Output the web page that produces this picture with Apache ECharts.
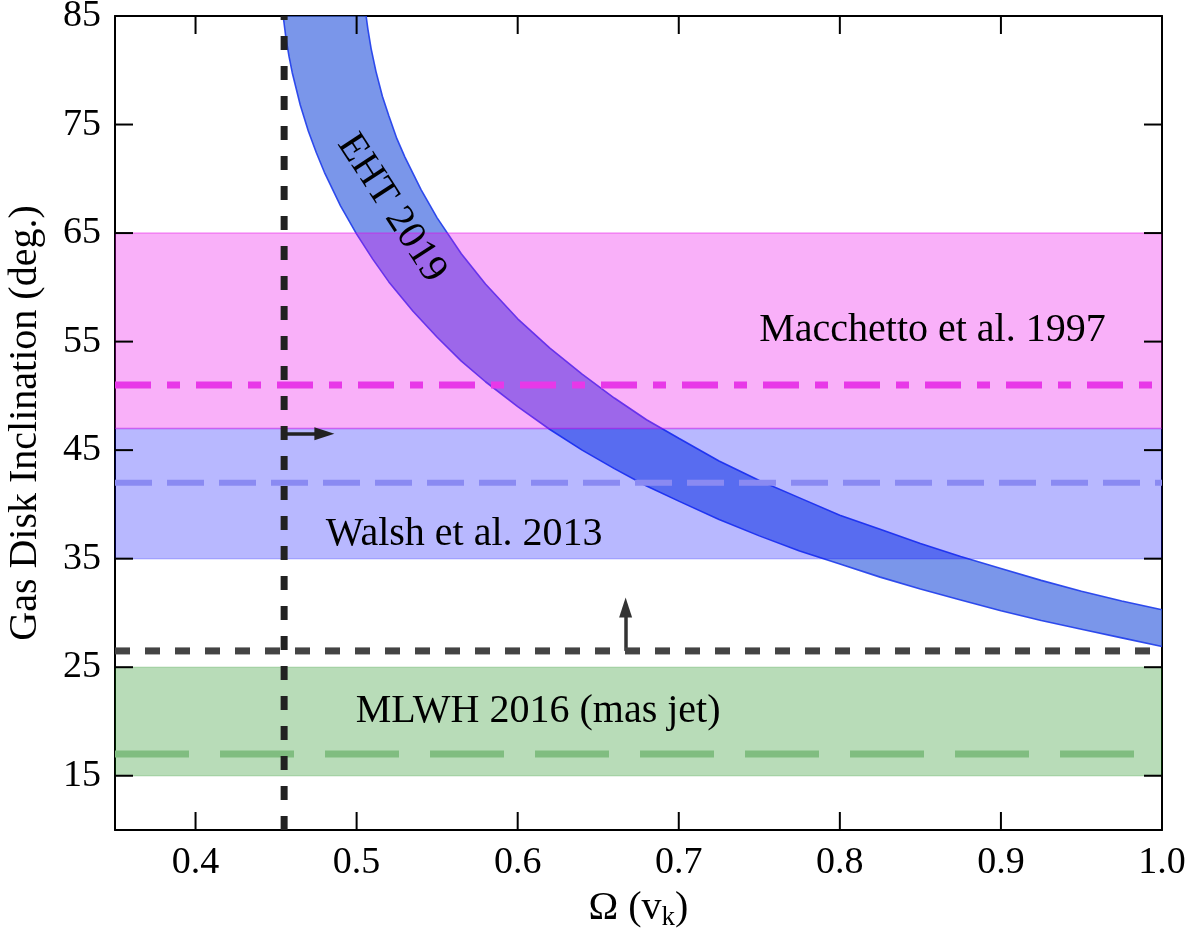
<!DOCTYPE html>
<html>
<head>
<meta charset="utf-8">
<script src="https://cdn.jsdelivr.net/npm/echarts@6/dist/echarts.min.js"></script>
<style>
  html, body { margin: 0; padding: 0; background: #ffffff; }
  #chart { width: 1188px; height: 932px; }
</style>
</head>
<body>
<div id="chart"></div>
<script>
// Axis ticks
const omegaTicks = [0.4, 0.5, 0.6, 0.7, 0.8, 0.9, 1.0];
const inclTicks = [15, 25, 35, 45, 55, 65, 75, 85];

// EHT 2019 constraint band: lower-left edge
const ehtLowerOmega = [0.4544, 0.456, 0.458, 0.46, 0.465, 0.47, 0.475, 0.48, 0.49, 0.50, 0.51, 0.52, 0.535, 0.55, 0.565, 0.58, 0.60, 0.62, 0.64, 0.66, 0.68, 0.70, 0.725, 0.75, 0.775, 0.80, 0.825, 0.85, 0.875, 0.90, 0.925, 0.95, 0.975, 1.00];
const ehtLowerIncl  = [85.0, 83.1, 81.3, 79.8, 76.8, 74.4, 72.4, 70.6, 67.5, 64.9, 62.6, 60.5, 57.8, 55.4, 53.2, 51.3, 49.0, 46.9, 45.0, 43.3, 41.7, 40.3, 38.6, 37.1, 35.7, 34.5, 33.3, 32.2, 31.2, 30.2, 29.3, 28.5, 27.7, 26.9];
// EHT 2019 constraint band: upper-right edge
const ehtUpperOmega = [0.5059, 0.507, 0.509, 0.512, 0.516, 0.52, 0.525, 0.53, 0.54, 0.55, 0.565, 0.58, 0.60, 0.62, 0.64, 0.66, 0.68, 0.70, 0.725, 0.75, 0.775, 0.80, 0.825, 0.85, 0.875, 0.90, 0.925, 0.95, 0.975, 1.00];
const ehtUpperIncl  = [85.0, 83.8, 82.0, 79.9, 77.6, 75.8, 73.7, 72.0, 69.0, 66.4, 63.1, 60.3, 57.1, 54.4, 52.0, 49.8, 47.8, 46.1, 44.0, 42.2, 40.6, 39.0, 37.7, 36.4, 35.2, 34.1, 33.0, 32.0, 31.1, 30.3];

// Published inclination ranges [low, high] and best values
const macchettoRange = [47, 65];
const macchettoBest = 51;
const walshRange = [35, 47];
const walshBest = 42;
const mlwhRange = [15, 25];
const mlwhBest = 17;

// Lower limits
const omegaLimit = 0.455;       // vertical limit on Omega
const jetInclLimit = 26.5;      // lower limit on inclination
const omegaArrow = [0.455, 0.480];   // arrow along the Omega limit at 46.5 deg
const inclArrow = [26.5, 30.5];      // arrow along the inclination limit at Omega 0.667

const X_MIN = 0.35, X_MAX = 1.0, Y_MIN = 10, Y_MAX = 85;
const FONT = 'Liberation Serif';
const TICK_LEN = 18;

const lowerPts = ehtLowerOmega.map((x, i) => [x, ehtLowerIncl[i]]);
const upperPts = ehtUpperOmega.map((x, i) => [x, ehtUpperIncl[i]]);
const ehtPolygon = lowerPts.concat(upperPts.slice().reverse());

function bandSeries(range, fill, edge, z) {
  return {
    type: 'custom',
    coordinateSystem: 'cartesian2d',
    xAxisIndex: 0, yAxisIndex: 0,
    clip: true,
    silent: true,
    z: z,
    data: [[range[0], range[1]]],
    renderItem: function (params, api) {
      const lo = api.value(0), hi = api.value(1);
      const a = api.coord([X_MIN, hi]);
      const b = api.coord([X_MAX, lo]);
      return {
        type: 'group',
        children: [
          { type: 'rect', shape: { x: a[0], y: a[1], width: b[0] - a[0], height: b[1] - a[1] }, style: { fill: fill } },
          { type: 'line', shape: { x1: a[0], y1: a[1], x2: b[0], y2: a[1] }, style: { stroke: edge, lineWidth: 1.5 } },
          { type: 'line', shape: { x1: a[0], y1: b[1], x2: b[0], y2: b[1] }, style: { stroke: edge, lineWidth: 1.5 } }
        ]
      };
    }
  };
}

function hLine(y, color, width, dash, z) {
  return {
    type: 'line', xAxisIndex: 0, yAxisIndex: 0, silent: true, z: z,
    showSymbol: false, symbol: 'none',
    data: [[X_MIN, y], [X_MAX, y]],
    lineStyle: { color: color, width: width, type: dash, cap: 'butt' }
  };
}

// Inward ticks on all four sides of the frame
function tickMarks(params, api) {
  const children = [];
  const st = { stroke: '#000', lineWidth: 2 };
  omegaTicks.forEach(function (x) {
    const b = api.coord([x, Y_MIN]);
    const t = api.coord([x, Y_MAX]);
    children.push({ type: 'line', shape: { x1: b[0], y1: b[1], x2: b[0], y2: b[1] - TICK_LEN }, style: st });
    children.push({ type: 'line', shape: { x1: t[0], y1: t[1], x2: t[0], y2: t[1] + TICK_LEN }, style: st });
  });
  inclTicks.forEach(function (y) {
    const l = api.coord([X_MIN, y]);
    const r = api.coord([X_MAX, y]);
    children.push({ type: 'line', shape: { x1: l[0], y1: l[1], x2: l[0] + TICK_LEN, y2: l[1] }, style: st });
    children.push({ type: 'line', shape: { x1: r[0], y1: r[1], x2: r[0] - TICK_LEN, y2: r[1] }, style: st });
  });
  return { type: 'group', children: children };
}

const chart = echarts.init(document.getElementById('chart'), null, { renderer: 'canvas' });

const axisLine = { show: true, onZero: false, lineStyle: { color: '#000', width: 2 } };

const option = {
  backgroundColor: '#ffffff',
  animation: false,
  grid: { left: 115, right: 26, top: 16, bottom: 102, containLabel: false, outerBoundsMode: 'none' },
  xAxis: [
    {
      type: 'value', position: 'bottom', min: X_MIN, max: X_MAX,
      name: '{t|Ω (v}{s|k}{t|)}', nameLocation: 'middle', nameGap: 56,
      nameTextStyle: {
        rich: {
          t: { fontFamily: FONT, fontSize: 40, color: '#000' },
          s: { fontFamily: FONT, fontSize: 27, color: '#000', padding: [18, 0, 0, 0] }
        }
      },
      axisLine: axisLine,
      axisTick: { show: false },
      axisLabel: { customValues: omegaTicks, formatter: v => v.toFixed(1), fontFamily: FONT, fontSize: 38, color: '#000', margin: 14 },
      splitLine: { show: false }
    },
    {
      type: 'value', position: 'top', min: X_MIN, max: X_MAX,
      axisLine: axisLine,
      axisTick: { show: false },
      axisLabel: { show: false },
      splitLine: { show: false }
    }
  ],
  yAxis: [
    {
      type: 'value', position: 'left', min: Y_MIN, max: Y_MAX,
      name: 'Gas Disk Inclination (deg.)', nameLocation: 'middle', nameGap: 70,
      nameTextStyle: { fontFamily: FONT, fontSize: 40, color: '#000' },
      axisLine: axisLine,
      axisTick: { show: false },
      axisLabel: { customValues: inclTicks, fontFamily: FONT, fontSize: 38, color: '#000', margin: 14 },
      splitLine: { show: false }
    },
    {
      type: 'value', position: 'right', min: Y_MIN, max: Y_MAX,
      axisLine: axisLine,
      axisTick: { show: false },
      axisLabel: { show: false },
      splitLine: { show: false }
    }
  ],
  series: [
    // EHT 2019 band fill
    {
      type: 'custom', coordinateSystem: 'cartesian2d', xAxisIndex: 0, yAxisIndex: 0,
      clip: true, silent: true, z: 2,
      data: [[0.7, 50]],
      renderItem: function (params, api) {
        return {
          type: 'polygon',
          shape: { points: ehtPolygon.map(p => api.coord(p)) },
          style: { fill: 'rgba(65,105,225,0.7)' }
        };
      }
    },
    // EHT band edges
    {
      type: 'line', xAxisIndex: 0, yAxisIndex: 0, silent: true, z: 2, showSymbol: false, symbol: 'none',
      data: lowerPts, lineStyle: { color: 'rgba(30,60,235,0.9)', width: 1.6 }
    },
    {
      type: 'line', xAxisIndex: 0, yAxisIndex: 0, silent: true, z: 2, showSymbol: false, symbol: 'none',
      data: upperPts, lineStyle: { color: 'rgba(30,60,235,0.9)', width: 1.6 }
    },
    // Published ranges
    bandSeries(mlwhRange, 'rgba(0,128,0,0.28)', 'rgba(0,128,0,0.18)', 3),
    bandSeries(walshRange, 'rgba(0,0,255,0.28)', 'rgba(0,0,255,0.2)', 3),
    bandSeries(macchettoRange, 'rgba(235,0,235,0.31)', 'rgba(225,0,225,0.35)', 3),
    // Best values
    hLine(mlwhBest, '#80bd80', 7, [74, 31], 5),
    hLine(walshBest, '#8a8af2', 6, [37, 15], 5),
    hLine(macchettoBest, '#e838e8', 7, [36, 16, 13, 16], 5),
    // Limits
    hLine(jetInclLimit, '#444444', 7, [15, 15], 6),
    {
      type: 'line', xAxisIndex: 0, yAxisIndex: 0, silent: true, z: 6, showSymbol: false, symbol: 'none',
      data: [[omegaLimit, Y_MIN], [omegaLimit, Y_MAX]],
      lineStyle: { color: '#222222', width: 7, type: [14, 16], cap: 'butt' }
    },
    // Arrows
    {
      type: 'line', xAxisIndex: 0, yAxisIndex: 0, silent: true, z: 7, data: [],
      markLine: {
        silent: true, animation: false,
        symbol: ['none', 'triangle'], symbolSize: [13, 20],
        label: { show: false },
        lineStyle: { width: 3.5, type: 'solid' },
        data: [
          [{ coord: [omegaArrow[0], 46.5], lineStyle: { color: '#222' }, itemStyle: { color: '#222' } },
           { coord: [omegaArrow[1], 46.5] }],
          [{ coord: [0.667, inclArrow[0]], lineStyle: { color: '#333' }, itemStyle: { color: '#333' } },
           { coord: [0.667, inclArrow[1]] }]
        ]
      }
    },
    // Text annotations
    {
      type: 'scatter', xAxisIndex: 0, yAxisIndex: 0, silent: true, z: 8,
      symbolSize: 0,
      itemStyle: { opacity: 1 },
      label: { show: true, position: 'inside', formatter: p => p.name, fontFamily: FONT, fontSize: 40, color: '#000000', opacity: 1, textBorderWidth: 0 },
      data: [
        { name: 'Macchetto et al. 1997', value: [0.8575, 56.0] },
        { name: 'Walsh et al. 2013', value: [0.5668, 37.2] },
        { name: 'MLWH 2016 (mas jet)', value: [0.6127, 20.9] },
        { name: 'EHT 2019', value: [0.5217, 67.3], label: { rotate: -57 } }
      ]
    },
    // Frame ticks
    {
      type: 'custom', coordinateSystem: 'cartesian2d', xAxisIndex: 0, yAxisIndex: 0,
      clip: false, silent: true, z: 9,
      data: [[0.7, 50]],
      renderItem: tickMarks
    }
  ]
};

chart.setOption(option);
</script>
</body>
</html>
